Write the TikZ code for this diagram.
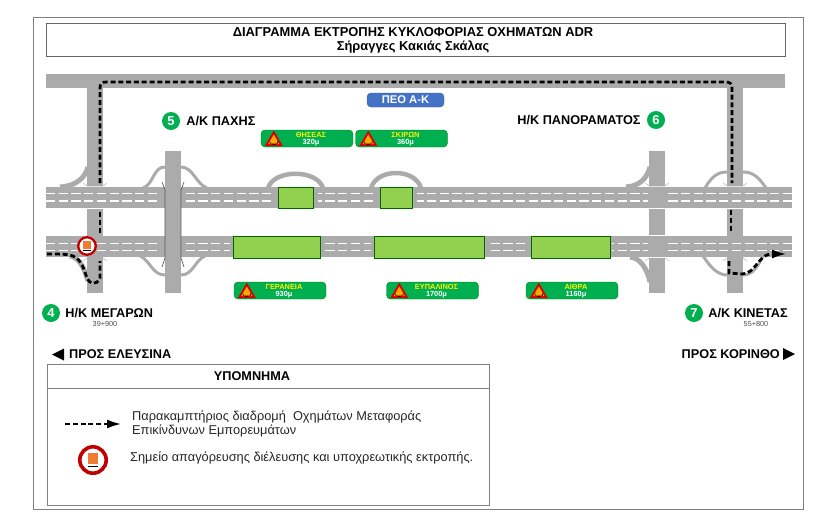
\documentclass[tikz,border=0pt]{standalone}
\usepackage{fontspec}
\setmainfont{Liberation Sans}
\usetikzlibrary{arrows.meta,positioning,calc}
\definecolor{roadgray}{HTML}{ABABAB}
\definecolor{tunnelgreen}{HTML}{92D050}
\definecolor{signgreen}{HTML}{00B050}
\definecolor{peoblue}{HTML}{4472C4}
\definecolor{framegray}{HTML}{7F7F7F}
\definecolor{signorange}{HTML}{ED7D31}
\definecolor{signred}{HTML}{C00000}
\tikzset{
  tunnelicon/.pic={
    \fill[red!85!black] (-9,7.5) -- (0,-8) -- (9,7.5) -- cycle;
    \fill[orange!70!yellow] (-5.5,5.5) -- (0,-4) -- (5.5,5.5) -- cycle;
    \fill[black] (-4,5) -- (-4,2.5) arc[start angle=180,end angle=0,radius=4] -- (4,5) -- cycle;
  },
  adrsign/.pic={
    \fill[white] (0,0) circle[radius=\adrsize];
    \draw[signred,line width=0.24*\adrsize pt] (0,0) circle[radius=0.88*\adrsize];
    \fill[signorange] (-0.36*\adrsize,-0.5*\adrsize) rectangle (0.36*\adrsize,0.26*\adrsize);
    \draw[black,line width=0.4pt] (-0.36*\adrsize,0.42*\adrsize) -- (0.36*\adrsize,0.42*\adrsize);
  }
}
\begin{document}
\begin{tikzpicture}[
  x=1pt, y=-1pt,
  font=\fontsize{13}{15}\selectfont,
  road/.style={fill=roadgray},
  ramp/.style={draw=roadgray, line width=3pt},
  fillet/.style={draw=roadgray, line width=5pt},
  looproad/.style={draw=roadgray, line width=4.5pt},
  lane/.style={draw=white, line width=1.1pt, dash pattern=on 9.3pt off 3.4pt},
  flare/.style={draw=black!30, line width=0.5pt},
  deck/.style={draw=black!65, line width=0.7pt},
  tunnel/.style={fill=tunnelgreen, draw=black!60!green, line width=0.7pt, inner sep=0pt},
  signbox/.style={fill=signgreen, draw=black!50!green, rounded corners=4pt, minimum width=92pt, minimum height=17pt, inner sep=0pt},
  signtext/.style={font=\fontsize{7.4}{7}\selectfont\bfseries, align=center, inner sep=0pt, text=white},
  badge/.style={circle, fill=signgreen, text=white, font=\fontsize{13}{15}\selectfont\bfseries, minimum size=18pt, inner sep=0pt},
  place/.style={font=\fontsize{12.7}{15}\selectfont\bfseries, inner sep=0pt},
  chain/.style={font=\fontsize{7.3}{9}\selectfont, text=black!70, inner sep=0pt},
  route/.style={draw=black, line width=2.8pt, dash pattern=on 5pt off 2.8pt},
  arr/.style={-{Latex[length=15pt,width=9pt]}},
  dirlabel/.style={font=\fontsize{12.7}{15}\selectfont\bfseries, inner sep=0pt},
  legendtext/.style={font=\fontsize{12.8}{14}\selectfont, align=left, inner sep=0pt, text=black!85}]
\useasboundingbox (0,0) rectangle (821,525);
% frames
\draw[framegray, line width=0.8pt] (33,17) rectangle (803,509);
\node[draw=black!60, line width=0.5pt, minimum width=739pt, minimum height=33pt, inner sep=0pt] (titlebox) at (415.5,39.5) {};
\node[inner sep=0pt, align=center, font=\fontsize{12.9}{14}\selectfont\bfseries] (title) at (413,40.5)
  {ΔΙΑΓΡΑΜΜΑ ΕΚΤΡΟΠΗΣ ΚΥΚΛΟΦΟΡΙΑΣ ΟΧΗΜΑΤΩΝ ADR\\Σήραγγες Κακιάς Σκάλας};
% ramps under the motorway
\draw[fillet] (88,167) .. controls (85,178) and (76,186) .. (60,187);
\draw[ramp] (143,188) .. controls (154,184) and (153,167) .. (165,167);
\draw[ramp] (181,167) .. controls (193,167) and (196,184) .. (207,188);
\draw[ramp] (140,256) .. controls (150,260) and (152,275) .. (165,275);
\draw[ramp] (181,275) .. controls (193,275) and (195,260) .. (205,256);
\draw[fillet] (70,256) .. controls (80,258) and (84,268) .. (88,281);
\draw[fillet] (650,167) .. controls (647,178) and (640,186) .. (626,187);
\draw[fillet] (630,257) .. controls (640,258) and (647,268) .. (650,282);
\draw[ramp] (705,188) .. controls (712,176) and (718,172) .. (727,172);
\draw[ramp] (743,172) .. controls (752,172) and (758,176) .. (766,188);
\draw[ramp] (703,256) .. controls (711,268) and (718,275) .. (727,275);
\draw[ramp] (743,275) .. controls (752,275) and (757,268) .. (763,256);
\draw[looproad] (268,188) .. controls (274,169) and (317,169) .. (323,188);
\draw[looproad] (371,188) .. controls (377,168) and (415,168) .. (421,188);
% roads
\fill[road] (46,74) rectangle (785,88);
\fill[road] (87,88) rectangle (103,186);
\fill[road] (87,209) rectangle (103,293);
\fill[road] (727,88) rectangle (743,186);
\fill[road] (727,209) rectangle (743,293);
\fill[road] (649,151) rectangle (665,186);
\fill[road] (649,209) rectangle (665,235);
\fill[road] (649,258) rectangle (665,293);
\fill[road] (46,187) rectangle (792,208);
\fill[road] (46,236) rectangle (792,257);
% lanes
\foreach \laney in {193.5,201,243.5,250.5}
  \draw[lane] (46,\laney) -- (792,\laney);
\fill[road] (648,187) rectangle (665,208);
\fill[road] (648,236) rectangle (665,257);
% overpass at Pachi
\fill[road] (160,187) rectangle (184,208);
\fill[road] (160,236) rectangle (184,257);
\fill[road] (165,151) rectangle (181,293);
\foreach \deckx/\flarex in {165/162,181/184} {
  \draw[deck] (\flarex,182) -- (\deckx,190) -- (\deckx,258) -- (\flarex,267);
}
% junction edges
\foreach \edgex in {87,649,727} {
  \draw[flare] (\edgex-4,183) -- (\edgex,186) -- (\edgex+16,186) -- (\edgex+20,183);
  \draw[flare] (\edgex-4,261) -- (\edgex,258) -- (\edgex+16,258) -- (\edgex+20,261);
}
% tunnels
\foreach \tubename/\tl/\tt/\tr/\tb/\tm in {
  thiseastube/278/187/313/208/5, skirontube/380/187/412/208/5,
  geraneiatube/233/236/320/258/3, evpalinostube/374/236/484/258/3,
  aithratube/531/236/610/258/2} {
  \fill[road] (\tl-\tm,\tt) rectangle (\tr+\tm,\tb-1);
  \node[tunnel, minimum width={(\tr-\tl)*1pt}, minimum height={(\tb-\tt)*1pt}] (\tubename) at ({(\tl+\tr)/2},{(\tt+\tb)/2}) {};
}
% tunnel signs
\foreach \signname/\cx/\cy/\tname/\tdist in {
  thiseas/307/138.5/ΘΗΣΕΑΣ/320μ, skiron/401.5/138.5/ΣΚΙΡΩΝ/360μ,
  geraneia/280/290.5/ΓΕΡΑΝΕΙΑ/930μ, evpalinos/432.5/290.5/ΕΥΠΑΛΙΝΟΣ/1700μ,
  aithra/572/290.5/ΑΙΘΡΑ/1160μ} {
  \node[signbox] (\signname) at (\cx,\cy) {};
  \pic at ($(\signname.west)+(13,0)$) {tunnelicon};
  \node[signtext] at ($(\signname.center)+(4,1)$) {\textcolor{yellow}{\tname}\\\tdist};
}
\node[fill=peoblue, draw=peoblue!80!black, rounded corners=4pt, minimum width=77pt, minimum height=14pt, inner sep=0pt,
  text=white, font=\fontsize{11.2}{13}\selectfont\bfseries] (peo) at (405.5,100) {ΠΕΟ Α-Κ};
% place names
\node[badge] (b5) at (171,121) {5};
\node[place, right=6pt of b5] (pachi) {Α/Κ ΠΑΧΗΣ};
\node[badge] (b6) at (656,120) {6};
\node[place, left=6pt of b6] (panorama) {Η/Κ ΠΑΝΟΡΑΜΑΤΟΣ};
\node[badge] (b4) at (51,313) {4};
\node[place, right=5pt of b4] (megara) {Η/Κ ΜΕΓΑΡΩΝ};
\node[chain] (km4) at (105,324) {39+900};
\node[badge] (b7) at (694,313) {7};
\node[place, right=5pt of b7] (kinetas) {Α/Κ ΚΙΝΕΤΑΣ};
\node[chain] (km7) at (756,324) {55+800};
% bypass route
\draw[route] (47,254) .. controls (60,254) and (68,254) .. (73,256)
  .. controls (82,260) and (84,270) .. (87,278) .. controls (89,284) and (97,286) .. (100,278) -- (100,261);
\draw[route] (100,233) -- (100,210);
\draw[route] (100,183) -- (100,88) .. controls (100,84) and (102,82) .. (106,82)
  -- (726,82) .. controls (730,82) and (732,84) .. (732,88) -- (732,183);
\draw[route] (731,210) -- (731,231);
\draw[route, arr] (729,261) -- (729,273) -- (742,274)
  .. controls (755,274) and (758,256) .. (770,254) -- (787,254);
% closure sign
\def\adrsize{10}
\pic at (87,246) {adrsign};
% directions
\fill[black] (52,354.5) -- (64,348.5) -- (64,360.5) -- cycle;
\node[dirlabel, anchor=west] (toelefsina) at (69,354) {ΠΡΟΣ ΕΛΕΥΣΙΝΑ};
\fill[black] (795,354) -- (783,348) -- (783,360) -- cycle;
\node[dirlabel, anchor=east] (tokorinthos) at (780,354) {ΠΡΟΣ ΚΟΡΙΝΘΟ};
% legend
\draw[framegray, line width=0.7pt] (47,364) rectangle (489,505);
\draw[framegray, line width=0.7pt] (47,388) -- (489,388);
\node[font=\fontsize{12.7}{15}\selectfont\bfseries, inner sep=0pt] (legendhead) at (252,376) {ΥΠΟΜΝΗΜΑ};
\coordinate (legendstart) at (65,424);
\coordinate (legendend) at (122,424);
\draw[route, arr] (legendstart) -- (legendend);
\node[legendtext, anchor=west] (legendroute) at (132,424) {Παρακαμπτήριος διαδρομή\ \ Οχημάτων Μεταφοράς\\Επικίνδυνων Εμπορευμάτων};
\def\adrsize{15}
\pic at (93,460) {adrsign};
\node[legendtext, anchor=west] (legendsign) at (130,458) {Σημείο απαγόρευσης διέλευσης και υποχρεωτικής εκτροπής.};
\end{tikzpicture}
\end{document}
